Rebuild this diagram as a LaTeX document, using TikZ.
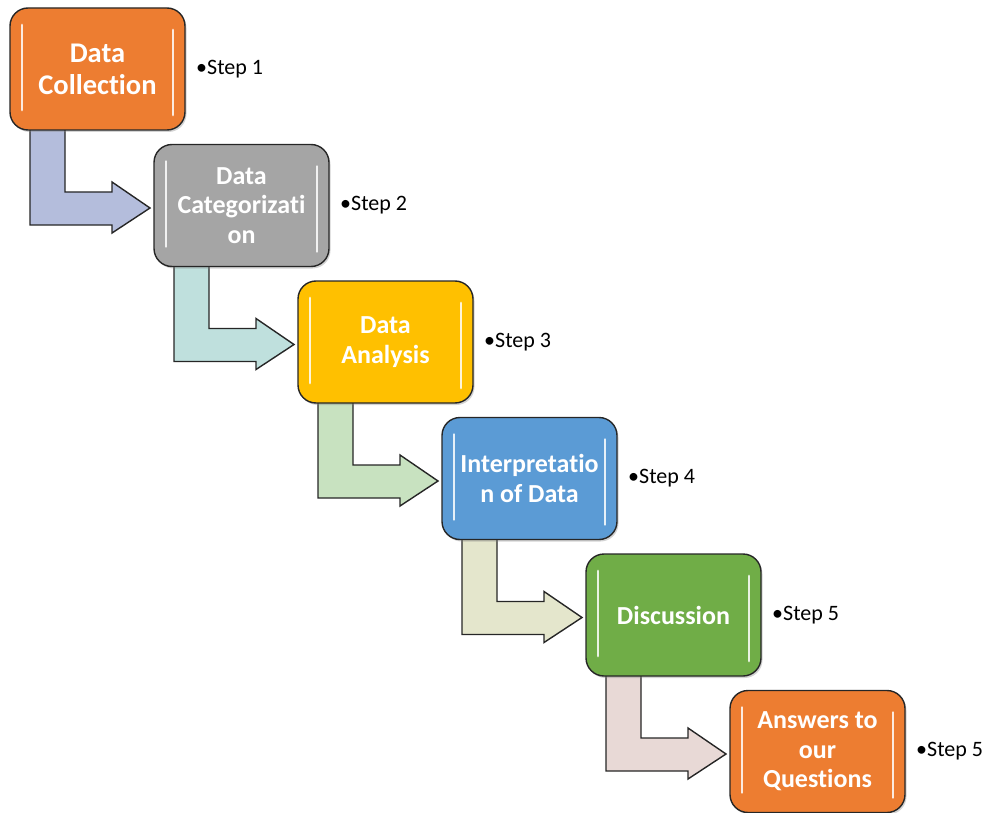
\documentclass[tikz,border=0pt]{standalone}
\usepackage{fontspec}
\setmainfont[Ligatures=NoCommon]{Carlito}
\usetikzlibrary{positioning, calc, shadows, backgrounds}
\definecolor{BoxOrange}{HTML}{ED7D31}
\definecolor{BoxGray}{HTML}{A5A5A5}
\definecolor{BoxYellow}{HTML}{FFC000}
\definecolor{BoxBlue}{HTML}{5B9BD5}
\definecolor{BoxGreen}{HTML}{70AD47}
\definecolor{ArrowBlue}{HTML}{B4BDDC}
\definecolor{ArrowTeal}{HTML}{BFE0DD}
\definecolor{ArrowGreen}{HTML}{C8E2C0}
\definecolor{ArrowBeige}{HTML}{E4E6CC}
\definecolor{ArrowRose}{HTML}{E8D9D6}
\definecolor{EdgeDark}{HTML}{262626}

\begin{document}
\begin{tikzpicture}[
    stepbox/.style={draw=EdgeDark, line width=1.4pt, outer sep=0pt, rounded corners=18pt, minimum width=175pt, minimum height=122pt, text=white, align=center, font=\bfseries\fontsize{26}{29.5}\selectfont, drop shadow={opacity=0.35, shadow xshift=1.5pt, shadow yshift=-2pt},
        path picture={\draw[white, line width=2.8pt, line cap=round, opacity=0.85]
            ($(path picture bounding box.north west)+(12pt,-17pt)$) -- ($(path picture bounding box.south west)+(12pt,20pt)$)
            ($(path picture bounding box.north east)+(-12pt,-22pt)$) -- ($(path picture bounding box.south east)+(-12pt,15pt)$);}},
    steplabel/.style={font=\fontsize{22}{24}\selectfont, inner sep=0pt},
    bentarrow/.style={draw=EdgeDark, line width=1.4pt, line join=miter}]
    \useasboundingbox (0,0) rectangle (990pt,-813pt);

    \node[stepbox, fill=BoxOrange, font=\bfseries\fontsize{28.5}{32}\selectfont] (collect) at (97.5pt,-69pt) {Data\\Collection};
    \node[stepbox, fill=BoxGray, below right=14.5pt and -31pt of collect] (categ) {Data\\Categorizati\\on};
    \node[stepbox, fill=BoxYellow, below right=14.5pt and -31pt of categ] (analysis) {Data\\Analysis};
    \node[stepbox, fill=BoxBlue, below right=14.5pt and -31pt of analysis] (interp) {Interpretatio\\n of Data};
    \node[stepbox, fill=BoxGreen, below right=14.5pt and -31pt of interp] (discuss) {Discussion};
    \node[stepbox, fill=BoxOrange, below right=14.5pt and -31pt of discuss] (answers) {Answers to\\our\\Questions};

    % Step labels
    \node[steplabel, right=11pt of collect] (s1) {•Step 1};
    \node[steplabel, right=11pt of categ] (s2) {•Step 2};
    \node[steplabel, right=11pt of analysis] (s3) {•Step 3};
    \node[steplabel, right=11pt of interp] (s4) {•Step 4};
    \node[steplabel, right=11pt of discuss] (s5) {•Step 5};
    \node[steplabel, right=11pt of answers] (s6) {•Step 5};

    % Arrows
    \begin{scope}[on background layer]
        \draw[bentarrow, fill=ArrowBlue, shift={(collect.south west)}] (20pt,3pt) -- (55pt,3pt) -- (55pt,-62pt) -- (102pt,-62pt) -- (102pt,-52pt) -- (140pt,-78pt) -- (102pt,-103pt) -- (102pt,-95pt) -- (20pt,-95pt) -- cycle;
        \draw[bentarrow, fill=ArrowTeal, shift={(categ.south west)}] (20pt,3pt) -- (55pt,3pt) -- (55pt,-62pt) -- (102pt,-62pt) -- (102pt,-52pt) -- (140pt,-78pt) -- (102pt,-103pt) -- (102pt,-95pt) -- (20pt,-95pt) -- cycle;
        \draw[bentarrow, fill=ArrowGreen, shift={(analysis.south west)}] (20pt,3pt) -- (55pt,3pt) -- (55pt,-62pt) -- (102pt,-62pt) -- (102pt,-52pt) -- (140pt,-78pt) -- (102pt,-103pt) -- (102pt,-95pt) -- (20pt,-95pt) -- cycle;
        \draw[bentarrow, fill=ArrowBeige, shift={(interp.south west)}] (20pt,3pt) -- (55pt,3pt) -- (55pt,-62pt) -- (102pt,-62pt) -- (102pt,-52pt) -- (140pt,-78pt) -- (102pt,-103pt) -- (102pt,-95pt) -- (20pt,-95pt) -- cycle;
        \draw[bentarrow, fill=ArrowRose, shift={(discuss.south west)}] (20pt,3pt) -- (55pt,3pt) -- (55pt,-62pt) -- (102pt,-62pt) -- (102pt,-52pt) -- (140pt,-78pt) -- (102pt,-103pt) -- (102pt,-95pt) -- (20pt,-95pt) -- cycle;
    \end{scope}
\end{tikzpicture}
\end{document}
